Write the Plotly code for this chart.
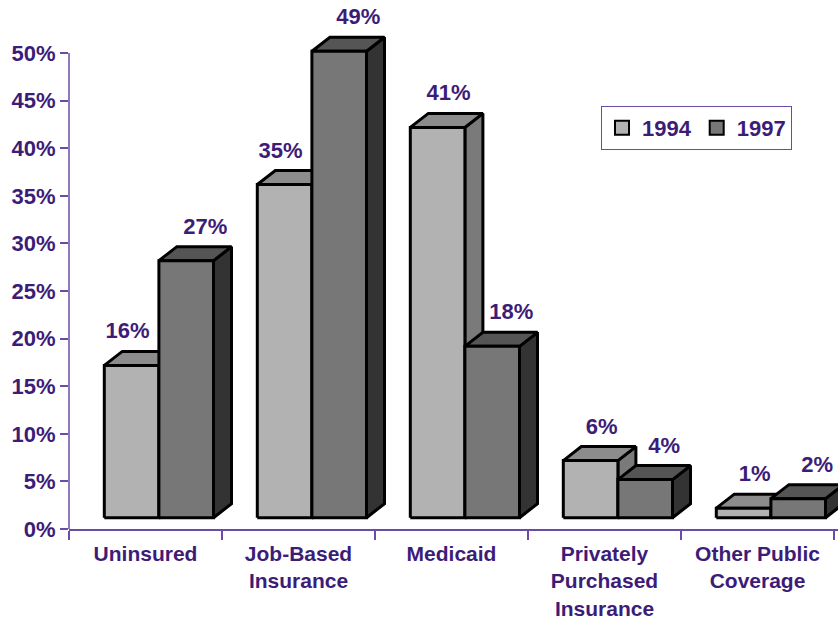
import plotly.graph_objects as go

# ---- data -------------------------------------------------------------
CATEGORIES = ["Uninsured", "Job-Based<br>Insurance", "Medicaid",
              "Privately<br>Purchased<br>Insurance", "Other Public<br>Coverage"]
SERIES = ["1994", "1997"]
VALUES_1994 = [16, 35, 41, 6, 1]
VALUES_1997 = [27, 49, 18, 4, 2]
Y_TICKS = [0, 5, 10, 15, 20, 25, 30, 35, 40, 45, 50]

# ---- styling ----------------------------------------------------------
PURPLE = "#3D1C78"
AXIS = "#6A4CA6"
FONT = "Liberation Sans"
FS = 22
FS_CAT = 21
FACE = {  # front, top, side
    "1994": ("#B2B2B2", "#8C8C8C", "#7A7A7A"),
    "1997": ("#777777", "#555555", "#333333"),
}

W, H = 838, 623
ML, MR, MT, MB = 69, 0, 3, 94
PX_X = 153.0          # pixels per category
PX_Y = 9.52           # pixels per percentage point
plot_w = W - ML - MR
plot_h = H - MT - MB
x_range = [-0.5, -0.5 + plot_w / PX_X]
y_range = [0, plot_h / PX_Y]

# 3-D bar geometry (converted to axis units)
BAR_W = 54.6 / PX_X
LEFT0 = -41.2 / PX_X
DX = 18 / PX_X
DY = 14 / PX_Y
BASE = 11.3 / PX_Y

fig = go.Figure()

def faces(x0, v):
    x1 = x0 + BAR_W
    y0, y1 = BASE, BASE + v
    front = [(x0, y0), (x1, y0), (x1, y1), (x0, y1), (x0, y0)]
    top = [(x0, y1), (x0 + DX, y1 + DY), (x1 + DX, y1 + DY), (x1, y1), (x0, y1)]
    side = [(x1, y0), (x1 + DX, y0 + DY), (x1 + DX, y1 + DY), (x1, y1), (x1, y0)]
    return front, top, side

series_vals = {"1994": VALUES_1994, "1997": VALUES_1997}
for s_idx, name in enumerate(SERIES):
    polys = {"side": ([], []), "top": ([], []), "front": ([], [])}
    for i, v in enumerate(series_vals[name]):
        x0 = i + LEFT0 + s_idx * BAR_W
        front, top, side = faces(x0, v)
        for key, pts in (("front", front), ("top", top), ("side", side)):
            xs, ys = polys[key]
            xs.extend([p[0] for p in pts] + [None])
            ys.extend([p[1] for p in pts] + [None])
    colors = dict(zip(("front", "top", "side"), FACE[name]))
    for key in ("side", "top", "front"):
        xs, ys = polys[key]
        fig.add_trace(go.Scatter(
            x=xs, y=ys, mode="lines", fill="toself", fillcolor=colors[key],
            line=dict(color="black", width=3), showlegend=False,
            hoverinfo="skip"))

# value labels above each bar
for s_idx, name in enumerate(SERIES):
    vals = series_vals[name]
    lx, ly, lt = [], [], []
    for i, v in enumerate(vals):
        xc = i + LEFT0 + s_idx * BAR_W + BAR_W / 2
        if s_idx == 0:
            shift = -4 if VALUES_1997[i] > v + 3 else 11
        else:
            shift = 19
        lx.append(xc + shift / PX_X)
        ly.append(BASE + v + 32.4 / PX_Y)
        lt.append(f"{v}%")
    fig.add_trace(go.Scatter(
        x=lx, y=ly, text=lt, mode="text", textposition="middle center",
        textfont=dict(family=FONT, size=FS, color=PURPLE, weight="bold"),
        cliponaxis=False, showlegend=False, hoverinfo="skip"))

# legend entries
for name in SERIES:
    fig.add_trace(go.Scatter(
        x=[None], y=[None], mode="markers", name=name,
        marker=dict(symbol="square", size=14, color=FACE[name][0],
                    line=dict(color="black", width=2))))

fig.update_layout(
    width=W, height=H,
    margin=dict(l=ML, r=MR, t=MT, b=MB, autoexpand=False),
    paper_bgcolor="white", plot_bgcolor="white",
    font=dict(family=FONT, size=FS, color=PURPLE, weight="bold"),
    showlegend=True,
    legend=dict(
        orientation="h", x=(601 - ML) / plot_w, y=1 - (106 - MT) / plot_h,
        xanchor="left", yanchor="top",
        bordercolor=AXIS, borderwidth=1, bgcolor="white",
        font=dict(family=FONT, size=FS, color=PURPLE, weight="bold"),
        itemwidth=30, tracegroupgap=0),
    xaxis=dict(
        range=x_range, showgrid=False, zeroline=False, automargin=False,
        showline=True, linecolor=AXIS, linewidth=1.5,
        tickmode="array", tickvals=list(range(len(CATEGORIES))),
        ticktext=CATEGORIES, ticks="", ticklabelstandoff=5,
        minor=dict(tickmode="array",
                   tickvals=[i - 0.5 for i in range(len(CATEGORIES) + 1)],
                   ticks="outside", ticklen=9, tickwidth=1.5, tickcolor=AXIS),
        tickfont=dict(family=FONT, size=FS_CAT, color=PURPLE, weight="bold"),
    ),
    yaxis=dict(
        range=y_range, showgrid=False, zeroline=False, showline=False,
        automargin=False,
        tickmode="array", tickvals=Y_TICKS,
        ticktext=[f"{t}%" for t in Y_TICKS],
        ticks="outside", ticklen=8, tickwidth=1.5, tickcolor=AXIS,
        tickfont=dict(family=FONT, size=FS, color=PURPLE, weight="bold"),
    ),
    shapes=[dict(type="line", xref="paper", yref="y", x0=0, x1=0,
                 y0=Y_TICKS[0], y1=Y_TICKS[-1],
                 line=dict(color=AXIS, width=1.5))],
)

fig.write_html("out.html")
